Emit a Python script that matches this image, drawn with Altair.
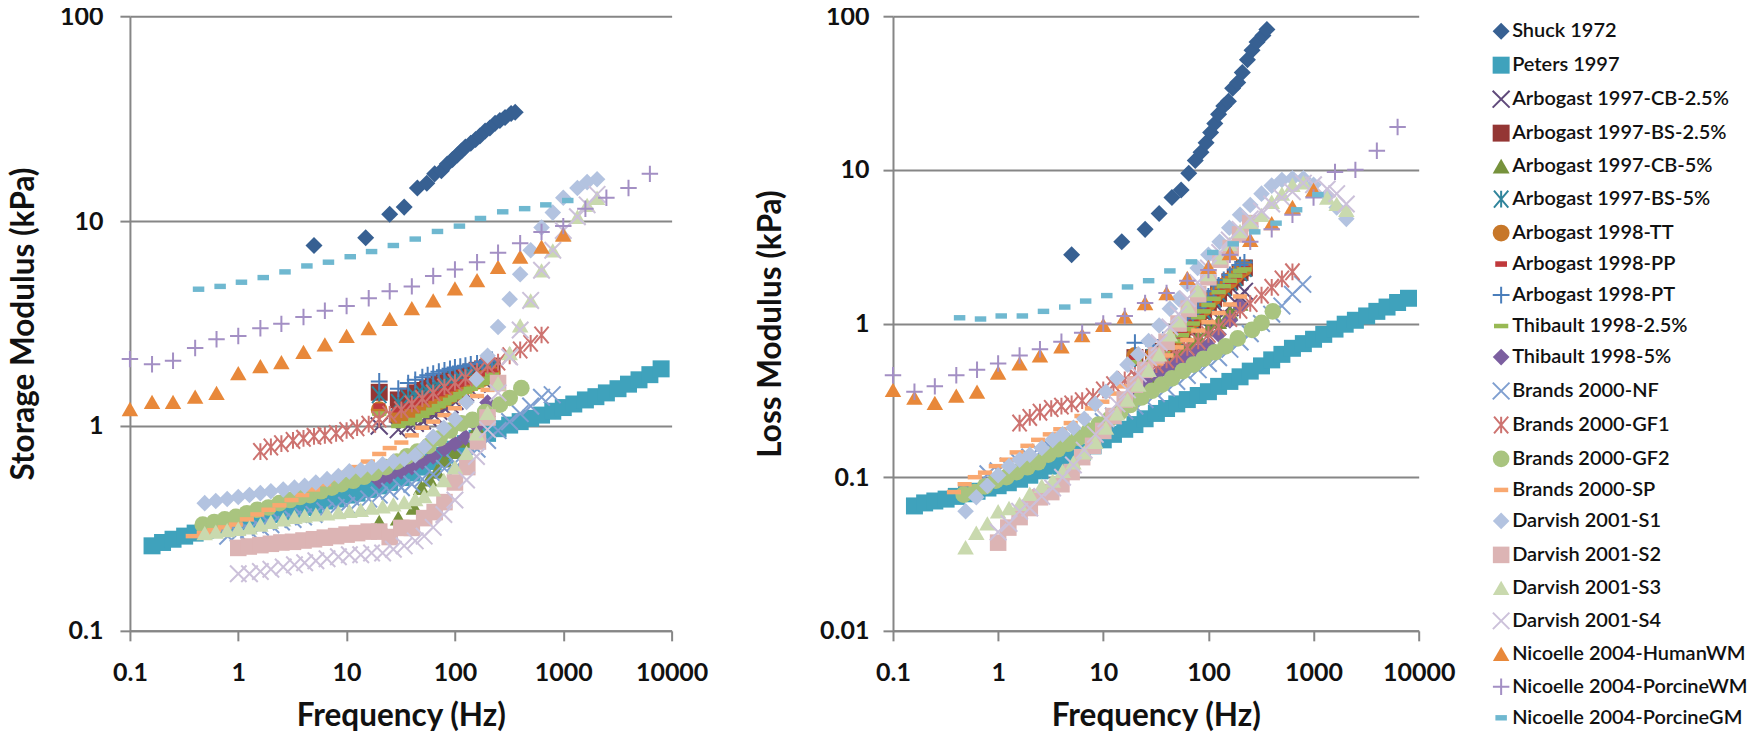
import altair as alt
import pandas as pd

SERIES = ["Shuck 1972", "Peters 1997", "Arbogast 1997-CB-2.5%", "Arbogast 1997-BS-2.5%", "Arbogast 1997-CB-5%",
          "Arbogast 1997-BS-5%", "Arbogast 1998-TT", "Arbogast 1998-PP", "Arbogast 1998-PT", "Thibault 1998-2.5%",
          "Thibault 1998-5%", "Brands 2000-NF", "Brands 2000-GF1", "Brands 2000-GF2", "Brands 2000-SP",
          "Darvish 2001-S1", "Darvish 2001-S2", "Darvish 2001-S3", "Darvish 2001-S4", "Nicoelle 2004-HumanWM",
          "Nicoelle 2004-PorcineWM", "Nicoelle 2004-PorcineGM"]

X = "M-1,-1L1,1M-1,1L1,-1"
PLUS = "M-1,0L1,0M0,-1L0,1"
STAR = "M-0.85,-1L0.85,1M-0.85,1L0.85,-1M0,-1L0,1"
LONG = "M-0.85,-0.27L0.85,-0.27L0.85,0.27L-0.85,0.27Z"
SHORT = "M-0.7,-0.33L0.7,-0.33L0.7,0.33L-0.7,0.33Z"

SHAPES = ["diamond", "square", X, "square", "triangle-up", STAR, "circle", SHORT, PLUS, LONG, "diamond", X, STAR,
          "circle", LONG, "diamond", "square", "triangle-up", X, "triangle-up", PLUS, SHORT]
SIZES = [290, 270, 210, 270, 300, 210, 270, 100, 230, 256, 290, 230, 230, 270, 256, 290, 270, 300, 230, 300, 230, 100]
COLORS = ["#376092", "#3fa2bc", "#604a7b", "#943634", "#76923c", "#31859c", "#c77729", "#c0393b", "#4a7ebb", "#98b954",
          "#7c5fa0", "#7f9fd0", "#cd7370", "#a9c47f", "#f9a870", "#b3c3e0", "#dcb4b4", "#c9d9ae", "#ccc1da", "#e8883a",
          "#a38fc4", "#6fb8d0"]
LINE_SERIES = {2, 5, 8, 11, 12, 18, 20}
FILLS = ["transparent" if i in LINE_SERIES else c for i, c in enumerate(COLORS)]
STROKES = [c if i in LINE_SERIES else "transparent" for i, c in enumerate(COLORS)]

F_SHUCK_S = [5, 15, 25, 34, 45, 55, 65, 75, 85, 95, 105, 115, 125, 140, 155, 170, 190, 210, 235, 260, 290, 330, 360]
G_SHUCK = [7.6, 8.3, 10.8, 11.7, 14.5, 15.3, 17, 17.6, 19, 20, 21, 22, 23, 24, 25, 26, 27.5, 28.5, 30, 31, 32, 33.5, 34]
L_SHUCK = [2.8, 3.4, 4.1, 5.2, 6.6, 7.4, 9.5, 11.5, 13, 15, 17.5, 20, 23, 26, 28, 34, 37, 43, 52, 60, 68, 75, 82]

F_PETERS = [0.16, 0.2, 0.25, 0.32, 0.4, 0.5, 0.63, 0.8, 1, 1.25, 1.6, 2, 2.5, 3.2, 4, 5, 6.3, 8, 10, 12.5, 16, 20, 25, 32,
            40, 50, 63, 80, 100, 125, 160, 200, 250, 320, 400, 500, 630, 800, 1000, 1250, 1600, 2000, 2500, 3200, 4000,
            5000, 6300, 8000]
G_PETERS = [.26, .27, .28, .29, .3, .31, .32, .33, .34, .35, .36, .37, .38, .39, .4, .41, .43, .44, .46, .47, .49, .51, .53,
            .56, .59, .63, .67, .72, .77, .82, .87, .92, .97, 1.01, 1.05, 1.09, 1.13, 1.18, 1.23, 1.28, 1.34, 1.39, 1.45,
            1.52, 1.6, 1.68, 1.78, 1.9]
L_PETERS = [.065, .068, .07, .072, .075, .078, .081, .085, .088, .092, .097, .103, .11, .118, .126, .135, .145, .16, .175,
            .19, .205, .22, .24, .26, .28, .3, .32, .34, .36, .39, .42, .45, .49, .53, .58, .63, .69, .74, .79, .85, .92,
            .99, 1.05, 1.12, 1.2, 1.28, 1.37, 1.46]

F_ARB = [20, 30, 37, 43, 50, 56, 63, 71, 80, 90, 100, 112, 125, 140, 160, 180, 200, 220]
G_CB25 = [1.0, .96, 1.0, 1.03, 1.06, 1.1, 1.14, 1.18, 1.22, 1.27, 1.32, 1.38, 1.45, 1.5, 1.6, 1.68, 1.75, 1.85]
L_CB25 = [.46, .48, .52, .56, .6, .65, .7, .75, .8, .86, .93, 1.0, 1.08, 1.17, 1.27, 1.38, 1.5, 1.62]
G_BS25 = [1.46, 1.34, 1.4, 1.45, 1.49, 1.53, 1.56, 1.6, 1.64, 1.68, 1.72, 1.76, 1.8, 1.83, 1.87, 1.9, 1.93, 1.96]
L_BS25 = [.6, .6, .66, .72, .8, .87, .95, 1.03, 1.12, 1.22, 1.33, 1.45, 1.58, 1.72, 1.87, 2.0, 2.15, 2.3]
G_BS5 = [1.42, 1.3, 1.36, 1.4, 1.44, 1.48, 1.52, 1.56, 1.6, 1.64, 1.68, 1.72, 1.76, 1.8, 1.84, 1.88, 1.92, 1.95]
L_BS5 = [.58, .6, .65, .71, .79, .86, .94, 1.02, 1.11, 1.21, 1.32, 1.44, 1.57, 1.71, 1.86, 1.99, 2.14, 2.28]
G_TT = [1.2, 1.1, 1.13, 1.16, 1.2, 1.23, 1.27, 1.31, 1.35, 1.4, 1.45, 1.5, 1.55, 1.6, 1.65, 1.7, 1.75, 1.8]
L_TT = [.62, .62, .68, .74, .81, .88, .96, 1.05, 1.14, 1.25, 1.36, 1.48, 1.62, 1.76, 1.9, 2.05, 2.2, 2.3]
G_PP = [1.25, 1.2, 1.25, 1.3, 1.33, 1.37, 1.4, 1.44, 1.48, 1.52, 1.56, 1.6, 1.64, 1.68, 1.72, 1.76, 1.8, 1.85]
L_PP = [.6, .61, .67, .73, .8, .87, .95, 1.04, 1.13, 1.24, 1.35, 1.47, 1.6, 1.74, 1.88, 2.03, 2.18, 2.28]
G_PT = [1.65, 1.52, 1.62, 1.68, 1.73, 1.77, 1.8, 1.84, 1.87, 1.9, 1.93, 1.95, 1.97, 2.0, 2.02, 2.05, 2.08, 2.1]
L_PT = [.75, .72, .78, .84, .92, 1.0, 1.08, 1.17, 1.27, 1.38, 1.5, 1.62, 1.77, 1.92, 2.07, 2.25, 2.4, 2.5]
G_TH25 = [1.15, 1.0, 1.03, 1.07, 1.12, 1.16, 1.2, 1.25, 1.29, 1.34, 1.38, 1.43, 1.47, 1.52, 1.57, 1.62, 1.7, 1.78]
L_TH25 = [.56, .58, .64, .7, .77, .84, .92, 1.0, 1.1, 1.2, 1.32, 1.45, 1.6, 1.75, 1.9, 2.05, 2.2, 2.25]

F_CB5 = [20, 30, 42, 49, 58, 68, 80, 100, 125, 160, 200]
G_CB5 = [.34, .355, .4, .5, .55, .6, .68, .75, .85, .98, 1.2]
L_CB5 = [.38, .45, .54, .6, .67, .74, .82, .92, 1.03, 1.18, 1.35]

F_TH5 = [20, 25, 32, 40, 50, 63, 80, 100, 125, 160, 200]
G_TH5 = [.54, .57, .6, .63, .67, .71, .77, .82, .88, 1.0, 1.3]
L_TH5 = [.38, .42, .46, .5, .55, .6, .66, .72, .85, 1.05, 1.3]

F_NF = [.8, 1, 1.25, 1.6, 2, 2.5, 3.2, 4, 5, 6.3, 8, 10, 12.5, 16, 20, 25, 32, 40, 50, 63, 80, 100, 125, 160, 200, 250, 320,
        400, 500, 630, 790]
G_NF = [.29, .3, .31, .32, .33, .34, .35, .36, .37, .385, .4, .41, .42, .44, .46, .48, .5, .52, .55, .58, .62, .66, .7, .77,
        .85, .95, 1.05, 1.15, 1.25, 1.38, 1.42]
L_NF = [.105, .11, .118, .125, .135, .145, .155, .17, .18, .195, .21, .23, .25, .27, .29, .32, .35, .38, .42, .46, .5, .55,
        .6, .68, .76, .86, 1.0, 1.15, 1.3, 1.55, 1.8]

F_GF1 = [1.6, 2, 2.5, 3.2, 4, 5, 6.3, 8, 10, 12.5, 16, 20, 25, 32, 40, 50, 63, 80, 100, 125, 160, 200, 250, 320, 400, 500, 630]
G_GF1 = [.75, .79, .82, .85, .87, .89, .9, .92, .95, .98, 1.02, 1.08, 1.14, 1.2, 1.28, 1.36, 1.45, 1.55, 1.63, 1.72, 1.85,
         1.97, 2.05, 2.2, 2.35, 2.53, 2.78]
L_GF1 = [.225, .245, .265, .28, .29, .3, .315, .335, .37, .4, .43, .46, .5, .54, .58, .63, .7, .77, .85, .95, 1.08, 1.22,
         1.35, 1.53, 1.72, 1.95, 2.17]

F_GF2 = [.47, .6, .75, .95, 1.2, 1.5, 1.9, 2.4, 3, 3.7, 4.6, 5.8, 7.3, 9, 11.5, 14.5, 18, 23, 29, 36, 45, 57, 72, 90, 115,
         145, 190, 260, 320, 410]
G_GF2 = [.33, .34, .35, .36, .375, .39, .4, .42, .435, .45, .46, .48, .5, .52, .54, .565, .59, .63, .67, .71, .75, .8, .87,
         .95, 1.03, 1.07, 1.17, 1.27, 1.37, 1.53]
L_GF2 = [.077, .08, .087, .095, .1, .108, .116, .125, .14, .152, .165, .18, .2, .22, .24, .265, .295, .33, .365, .4, .44,
         .49, .54, .59, .65, .71, .8, .91, 1.01, 1.2]

F_SP = [.38, .48, .6, .75, .95, 1.2, 1.5, 1.9, 2.4, 3.1, 3.9, 4.9, 6.2, 7.8, 9.8, 12.5, 15.7, 20, 25, 32, 40, 50, 63, 80,
        100, 125, 160, 200]
G_SP = [.29, .3, .31, .32, .33, .35, .37, .39, .41, .435, .46, .49, .52, .55, .59, .63, .67, .73, .78, .83, .9, .98, 1.05,
        1.13, 1.22, 1.3, 1.4, 1.5]
L_SP = [.08, .09, .1, .107, .118, .13, .145, .16, .175, .19, .205, .225, .25, .28, .31, .35, .39, .44, .49, .55, .62, .7,
        .78, .9, 1.02, 1.17, 1.33, 1.5]

F_DAR = [.49, .62, .79, 1, 1.27, 1.6, 2, 2.6, 3.3, 4.1, 5.2, 6.6, 8.4, 10.6, 13.5, 17, 21.5, 27, 34, 43, 52, 63, 79, 100,
         128, 158, 200, 250, 320, 400, 500, 630, 800, 1000, 1350, 1660, 2050]
G_S1 = [.42, .43, .44, .45, .46, .47, .48, .49, .5, .51, .53, .55, .57, .6, .61, .63, .65, .67, .69, .72, .79, .885, .98,
        1.08, 1.31, 1.69, 2.2, 3.04, 4.16, 5.5, 7.2, 9.3, 11, 13, 14.5, 15.5, 16]
L_S1 = [.06, .074, .088, .103, .118, .13, .14, .155, .175, .19, .21, .24, .3, .36, .44, .54, .63, .77, .97, 1.25, 1.45, 1.8,
        2.3, 2.8, 3.4, 4.2, 5.1, 5.9, 7, 7.9, 8.6, 8.8, 8.8, 8, 6.8, 5.7, 4.8]
G_S3 = [.3, .305, .31, .315, .32, .33, .34, .35, .36, .365, .37, .375, .38, .385, .39, .4, .405, .415, .425, .44, .455, .49,
        .545, .63, .74, .92, 1.16, 1.62, 2.27, 3.1, 4.1, 5.75, 7.2, 8.7, 10.5, 12, 13]
L_S3 = [.035, .0435, .05, .06, .063, .067, .078, .088, .095, .11, .125, .145, .17, .21, .26, .32, .4, .5, .63, .85, 1.05, 1.3,
        1.65, 2.1, 2.7, 3.3, 4, 4.6, 5.1, 6.2, 7, 8, 8.3, 7.4, 6.6, 6, 5.5]

F_S2 = [1, 1.25, 1.6, 2, 2.5, 3.2, 4, 5, 6.3, 8, 10, 12.5, 16, 20, 25, 32, 40, 52, 65, 80, 100, 130, 163, 200, 250]
G_S2 = [.254, .258, .262, .266, .27, .272, .276, .28, .285, .29, .295, .3, .305, .305, .287, .318, .318, .355, .38, .425,
        .53, .63, .84, 1.1, 1.62]
L_S2 = [.0375, .047, .055, .063, .074, .08, .09, .108, .135, .16, .2, .25, .32, .4, .5, .62, .76, 1.0, 1.25, 1.55, 2.0, 2.6,
        3.1, 3.8, 4.5]

F_S4 = [1, 1.27, 1.6, 2, 2.6, 3.3, 4.1, 5.2, 6.6, 8.4, 10.6, 13.5, 17, 21.5, 27, 34, 43, 52, 63, 79, 100, 128, 158, 200, 250,
        320, 400, 500, 630, 800, 1000, 1350, 1660, 2050]
G_S4 = [.19, .19, .195, .2, .205, .21, .215, .22, .225, .23, .235, .235, .24, .24, .25, .26, .275, .29, .32, .37, .435, .545,
        .71, .96, 1.45, 2.17, 2.94, 4.1, 5.75, 7.2, 9, 10.5, 12, 13.5]
L_S4 = [.044, .05, .06, .063, .075, .085, .1, .12, .15, .19, .24, .3, .37, .47, .6, .75, .95, 1.15, 1.45, 1.85, 2.3, 2.9, 3.5,
        4.1, 4.8, 5.4, 6, 6.6, 7.2, 8.2, 8, 7.5, 7, 6]

F_HUM = [.1, .16, .25, .4, .63, 1, 1.6, 2.5, 4, 6.3, 10, 16, 25, 40, 63, 100, 160, 250, 400, 630, 1000]
G_HUM = [1.21, 1.31, 1.31, 1.39, 1.45, 1.81, 1.96, 2.05, 2.3, 2.5, 2.75, 3.0, 3.33, 3.76, 4.1, 4.7, 5.15, 5.97, 6.7, 7.5, 8.6]
L_HUM = [.37, .33, .305, .34, .36, .48, .55, .62, .71, .84, .98, 1.11, 1.36, 1.58, 1.98, 2.34, 2.87, 3.5, 4.5, 5.75, 7.4]

F_PWM = [.1, .16, .25, .4, .63, 1, 1.6, 2.5, 4, 6.3, 10, 16, 25, 40, 63, 100, 160, 250, 400, 630, 1000, 1600, 2500, 4000, 6300]
G_PWM = [2.12, 2.0, 2.08, 2.4, 2.65, 2.75, 3.0, 3.15, 3.4, 3.65, 3.85, 4.2, 4.55, 4.8, 5.4, 5.8, 6.3, 7, 7.8, 8.85, 9.45,
         11.5, 13, 14.5, 17]
L_PWM = [.46, .36, .39, .46, .5, .55, .62, .68, .76, .87, 1.0, 1.12, 1.36, 1.58, 1.9, 2.23, 2.8, 3.4, 4.1, 5.1, 6.6, 9.7, 10,
         13.3, 19]

F_PGM = [.43, .68, 1.07, 1.7, 2.7, 4.3, 6.8, 10.8, 17, 27, 43, 69, 110, 172, 276, 440, 690, 1100]
G_PGM = [4.65, 4.8, 5.03, 5.3, 5.65, 6.04, 6.3, 6.7, 7.1, 7.6, 8.17, 8.9, 9.45, 10.3, 11.1, 11.5, 12, 12.6]
L_PGM = [1.09, 1.07, 1.12, 1.12, 1.2, 1.28, 1.4, 1.52, 1.73, 1.9, 2.2, 2.52, 2.9, 3.3, 3.95, 4.5, 5.5, 6.9]

TABLE = [
    (F_SHUCK_S, G_SHUCK, L_SHUCK), (F_PETERS, G_PETERS, L_PETERS), (F_ARB, G_CB25, L_CB25), (F_ARB, G_BS25, L_BS25),
    (F_CB5, G_CB5, L_CB5), (F_ARB, G_BS5, L_BS5), (F_ARB, G_TT, L_TT), (F_ARB, G_PP, L_PP), (F_ARB, G_PT, L_PT),
    (F_ARB, G_TH25, L_TH25), (F_TH5, G_TH5, L_TH5), (F_NF, G_NF, L_NF), (F_GF1, G_GF1, L_GF1), (F_GF2, G_GF2, L_GF2),
    (F_SP, G_SP, L_SP), (F_DAR, G_S1, L_S1), (F_S2, G_S2, L_S2), (F_DAR, G_S3, L_S3), (F_S4, G_S4, L_S4),
    (F_HUM, G_HUM, L_HUM), (F_PWM, G_PWM, L_PWM), (F_PGM, G_PGM, L_PGM),
]

rows = []
for name, (fs, gs, ls) in zip(SERIES, TABLE):
    assert len(fs) == len(gs) == len(ls), name
    for f, g, l in zip(fs, gs, ls):
        rows.append({"series": name, "f": f, "storage": g, "loss": l})
df = pd.DataFrame(rows)

GRID = "#868686"
FONT = "Lato"

leg = alt.Legend(title=None, orient="none", legendX=1362, legendY=5, rowPadding=8.0, labelFont=FONT, labelFontSize=20,
                 labelFontWeight=600, labelColor="#111111", symbolStrokeWidth=2, labelOffset=1, labelLimit=300)


def panel(field, title, ydom, yticks, w, lab_pad, title_pad):
    return alt.Chart(df).mark_point(opacity=1, strokeWidth=2).encode(
        x=alt.X("f:Q", scale=alt.Scale(type="log", domain=[0.1, 10000], nice=False),
                axis=alt.Axis(title="Frequency (Hz)", values=[0.1, 1, 10, 100, 1000, 10000], format="~g", grid=False,
                              labelPadding=20, titlePadding=15, labelOverlap=False, labelFlush=False)),
        y=alt.Y(f"{field}:Q", scale=alt.Scale(type="log", domain=ydom, nice=False),
                axis=alt.Axis(title=title, values=yticks, format="~g", grid=True, gridColor=GRID, gridWidth=2,
                              labelPadding=lab_pad, titlePadding=title_pad, labelOverlap=False, labelFlush=False)),
        shape=alt.Shape("series:N", sort=SERIES, scale=alt.Scale(domain=SERIES, range=SHAPES), title=None, legend=leg),
        size=alt.Size("series:N", sort=SERIES, scale=alt.Scale(domain=SERIES, range=SIZES), title=None, legend=leg),
        fill=alt.Fill("series:N", sort=SERIES, scale=alt.Scale(domain=SERIES, range=FILLS), title=None, legend=leg),
        stroke=alt.Stroke("series:N", sort=SERIES, scale=alt.Scale(domain=SERIES, range=STROKES), title=None, legend=leg),
    ).properties(width=w, height=615)


left = panel("storage", "Storage Modulus (kPa)", [0.1, 100], [0.1, 1, 10, 100], 542, 17, 19)
right = panel("loss", "Loss Modulus (kPa)", [0.01, 100], [0.01, 0.1, 1, 10, 100], 526, 14, 32)

chart = alt.hconcat(left, right, spacing=46.5).properties(padding={"left": 0, "top": -4, "right": 0, "bottom": 0}).configure_view(
    stroke=None
).configure_axis(
    labelFont=FONT, labelFontSize=25, labelFontWeight="bold", labelColor="#111111",
    titleFont=FONT, titleFontSize=31.5, titleFontWeight="bold", titleColor="#111111",
    domainColor=GRID, domainWidth=2, tickColor=GRID, tickWidth=2, tickSize=10,
)

chart.save("out.html", embed_options={"renderer": "svg", "actions": False})
